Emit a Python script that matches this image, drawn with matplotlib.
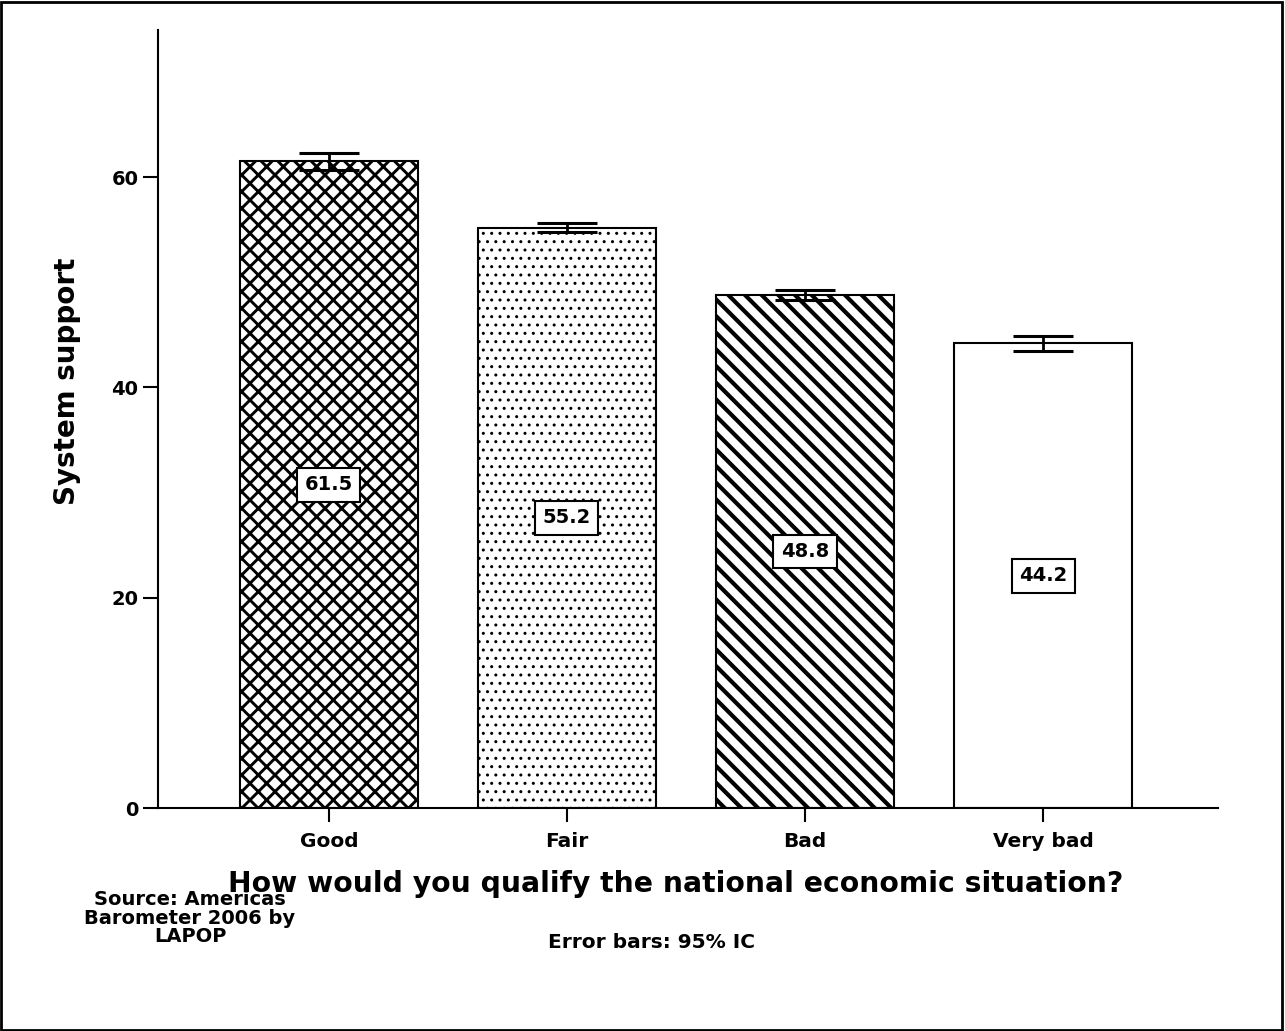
import numpy as np
import matplotlib
matplotlib.use("Agg")
from matplotlib import pyplot as plt

# data
categories = ["Good", "Fair", "Bad", "Very bad"]
support = [61.5, 55.2, 48.8, 44.2]
ci_half = [0.8, 0.45, 0.5, 0.7]
hatches = ["xx", "..", "\\\\", ""]
hatch_widths = [2.1, 1.0, 3.0, 1.0]

plt.rcParams["font.family"] = ["DejaVu Sans"]
plt.rcParams["font.weight"] = "bold"
plt.rcParams["axes.labelweight"] = "bold"

fig = plt.figure(figsize=(12.85, 10.31), dpi=100)
ax = fig.add_axes([158 / 1285, 1 - 808 / 1031, (1218 - 158) / 1285, (808 - 30) / 1031])

x = np.arange(len(categories))
for xi, val, h, hw in zip(x, support, hatches, hatch_widths):
    with plt.rc_context({"hatch.linewidth": hw}):
        ax.bar(xi, val, width=0.75, facecolor="white", edgecolor="black",
               linewidth=1.5, hatch=h, zorder=2)
ax.errorbar(x, support, yerr=ci_half, fmt="none", ecolor="black",
            elinewidth=2, capsize=21.6, capthick=2.2, zorder=3)

for xi, val in zip(x, support):
    ax.text(xi, val / 2, f"{val:.1f}", ha="center", va="center",
            fontsize=14, fontweight="bold", zorder=4,
            bbox=dict(boxstyle="square,pad=0.38", facecolor="white",
                      edgecolor="black", linewidth=1.5))

ax.set_xlim(-0.718, 3.735)
ax.set_ylim(0, 74)
ax.set_yticks([0, 20, 40, 60])
ax.set_xticks(x)
ax.set_xticklabels(categories, fontsize=14.5)
ax.tick_params(axis="y", labelsize=14, width=1.5, length=11, pad=3)
ax.tick_params(axis="x", width=1.5, length=10, pad=7)
ax.spines["top"].set_visible(False)
ax.spines["right"].set_visible(False)
ax.spines["left"].set_linewidth(1.5)
ax.spines["bottom"].set_linewidth(1.5)

ax.set_ylabel("System support", fontsize=20, fontweight="bold")
ax.yaxis.set_label_coords(-0.0726, 0.549)
ax.set_xlabel("How would you qualify the national economic situation?",
              fontsize=20.3, fontweight="bold")
ax.xaxis.set_label_coords(0.488, -0.08)

fig.text(190 / 1285, 1 - 918 / 1031, "Source: Americas\nBarometer 2006 by\nLAPOP",
         ha="center", va="center", fontsize=14, linespacing=0.95)
fig.text(651 / 1285, 1 - 942 / 1031, "Error bars: 95% IC",
         ha="center", va="center", fontsize=14.5)

# frame around the whole figure
fig.patches.append(plt.Rectangle((0.001, 0.001), 0.997, 0.997, transform=fig.transFigure,
                                 fill=False, edgecolor="black", linewidth=2))

fig.savefig("out.png", dpi=100)
